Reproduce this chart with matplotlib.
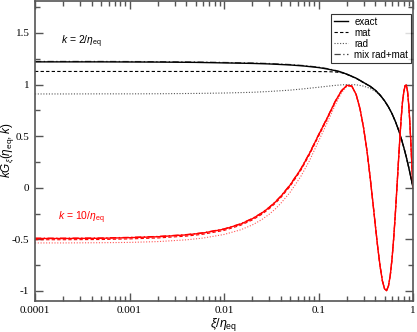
import matplotlib
matplotlib.use('Agg')
import matplotlib.pyplot as plt
from matplotlib.ticker import LogLocator, MultipleLocator, FuncFormatter

plt.rcParams['axes.unicode_minus'] = False
plt.rcParams['mathtext.fontset'] = 'custom'
plt.rcParams['mathtext.rm'] = 'Liberation Sans'
plt.rcParams['mathtext.it'] = 'Liberation Sans:italic'
plt.rcParams['font.family'] = 'Liberation Sans'

# k = 2/eta_eq (black)
xi_k2 = [1e-4, 2e-4, 5e-4, 1e-3, 2e-3, 5e-3, 0.01, 0.02, 0.03, 0.05, 0.07, 0.1,
         0.125, 0.15, 0.175, 0.2, 0.25, 0.3, 0.35, 0.4, 0.45, 0.5, 0.55, 0.6,
         0.65, 0.7, 0.75, 0.8, 0.85, 0.9, 0.95, 0.975, 1.0]
exact_k2 = [1.220, 1.220, 1.220, 1.219, 1.218, 1.215, 1.210, 1.205, 1.200, 1.190, 1.180, 1.165,
            1.150, 1.135, 1.120, 1.100, 1.062, 1.020, 0.985, 0.945, 0.897, 0.843, 0.783, 0.717,
            0.644, 0.565, 0.479, 0.389, 0.296, 0.199, 0.100, 0.050, 0.0]
mat_k2 = [1.127, 1.127, 1.127, 1.127, 1.127, 1.127, 1.127, 1.127, 1.127, 1.127, 1.127, 1.126,
          1.125, 1.122, 1.115, 1.098, 1.060, 1.018, 0.983, 0.944, 0.896, 0.842, 0.783, 0.717,
          0.644, 0.565, 0.479, 0.389, 0.296, 0.199, 0.100, 0.050, 0.0]
rad_k2 = [0.909, 0.909, 0.910, 0.910, 0.911, 0.914, 0.918, 0.925, 0.933, 0.946, 0.959, 0.974,
          0.984, 0.992, 0.997, 1.000, 0.998, 0.985, 0.964, 0.932, 0.891, 0.842, 0.783, 0.717,
          0.644, 0.565, 0.479, 0.389, 0.296, 0.199, 0.100, 0.050, 0.0]
mix_k2 = [1.224, 1.224, 1.224, 1.223, 1.222, 1.219, 1.214, 1.209, 1.204, 1.194, 1.184, 1.169,
          1.154, 1.138, 1.122, 1.101, 1.062, 1.020, 0.985, 0.945, 0.897, 0.843, 0.783, 0.717,
          0.644, 0.565, 0.479, 0.389, 0.296, 0.199, 0.100, 0.050, 0.0]

# k = 10/eta_eq (red)
xi_k10 = [1e-4, 2e-4, 5e-4, 1e-3, 2e-3, 4e-3, 6e-3, 0.01, 0.015, 0.02, 0.025, 0.03,
          0.035, 0.04, 0.05, 0.065, 0.08, 0.1, 0.125, 0.15, 0.175, 0.2,
          0.225, 0.25, 0.275, 0.3, 0.325, 0.35, 0.375, 0.4, 0.425, 0.45, 0.475, 0.5,
          0.525, 0.55, 0.575, 0.6, 0.625, 0.65, 0.675, 0.7, 0.725, 0.75, 0.775, 0.8,
          0.825, 0.85, 0.875, 0.9, 0.925, 0.95, 0.975, 1.0]
tail_k10 = [0.985, 0.905, 0.765, 0.580, 0.365, 0.120, -0.130, -0.370, -0.590, -0.770, -0.905, -0.980,
            -0.998, -0.952, -0.848, -0.688, -0.487, -0.256, -0.008, 0.239, 0.472, 0.676, 0.837, 0.930,
            0.990, 0.995, 0.935, 0.810, 0.640, 0.430, 0.200, 0.0]
exact_k10 = [-0.492, -0.492, -0.490, -0.484, -0.475, -0.457, -0.439, -0.402, -0.352, -0.300, -0.247, -0.193,
             -0.138, -0.083, 0.025, 0.180, 0.330, 0.510, 0.685, 0.835, 0.940, 0.993] + tail_k10
mat_k10 = [-0.504, -0.504, -0.502, -0.496, -0.487, -0.469, -0.451, -0.414, -0.364, -0.312, -0.259, -0.205,
           -0.150, -0.095, 0.013, 0.168, 0.318, 0.498, 0.675, 0.828, 0.936, 0.991] + tail_k10
rad_k10 = [-0.535, -0.535, -0.533, -0.530, -0.522, -0.505, -0.488, -0.453, -0.408, -0.360, -0.310, -0.258,
           -0.205, -0.150, -0.045, 0.110, 0.260, 0.450, 0.640, 0.800, 0.920, 0.985] + tail_k10
mix_k10 = [-0.489, -0.489, -0.487, -0.481, -0.472, -0.454, -0.436, -0.399, -0.349, -0.297, -0.244, -0.190,
           -0.135, -0.080, 0.028, 0.183, 0.333, 0.513, 0.688, 0.837, 0.941, 0.993] + tail_k10

fig = plt.figure(figsize=(4.17, 3.32), dpi=100)
ax = fig.add_axes([35/417, 1 - 300.7/332, 378/417, 299.7/332])

ax.plot(xi_k2, mix_k2, color='#444444', lw=0.9, ls=(0, (5, 2, 1, 2)))
ax.plot(xi_k2, rad_k2, color='#555555', lw=0.8, ls=(0, (1, 1.5)))
ax.plot(xi_k2, mat_k2, color='black', lw=0.8, ls=(0, (3, 2)))
ax.plot(xi_k2, exact_k2, color='black', lw=1.0)

ax.plot(xi_k10, mix_k10, color='red', lw=0.9, ls=(0, (5, 2, 1, 2)))
ax.plot(xi_k10, rad_k10, color='#ff5555', lw=0.8, ls=(0, (1, 1.5)))
ax.plot(xi_k10, mat_k10, color='red', lw=0.8, ls=(0, (3, 2)))
ax.plot(xi_k10, exact_k10, color='red', lw=1.0)

ax.set_xscale('log')
ax.set_xlim(1e-4, 1)
ax.set_ylim(-1.095, 1.81)

ax.xaxis.set_major_locator(LogLocator(base=10, numticks=10))
ax.xaxis.set_minor_locator(LogLocator(base=10, subs=range(2, 10), numticks=20))
ax.xaxis.set_major_formatter(FuncFormatter(lambda v, p: '%g' % v))
ax.yaxis.set_major_locator(MultipleLocator(0.5))
ax.yaxis.set_minor_locator(MultipleLocator(0.25))
ax.yaxis.set_major_formatter(FuncFormatter(lambda v, p: '%g' % v))

ax.tick_params(which='both', direction='in', top=True, right=True, color='#555555', width=1)
ax.tick_params(which='major', length=6, labelsize=8, pad=4)
ax.tick_params(which='minor', length=3.5)
for lab in ax.get_xticklabels() + ax.get_yticklabels():
    lab.set_family('Liberation Serif')
for sp in ax.spines.values():
    sp.set_color('#555555')
    sp.set_linewidth(1.2)

ax.set_xlabel(r'$\xi/\eta_{\rm eq}$', fontsize=9)
ax.set_ylabel(r'$kG_{\xi}(\eta_{\rm eq},k)$', fontsize=8.5)
ax.xaxis.set_label_coords(0.5, -0.052)
ax.yaxis.set_label_coords(-0.05, 0.5)

ax.text(0.07, 0.855, r'$k$ = 2/$\eta_{\rm eq}$', transform=ax.transAxes, fontsize=7.5, color='black')
ax.text(0.06, 0.27, r'$k$ = 10/$\eta_{\rm eq}$', transform=ax.transAxes, fontsize=7.5, color='red')

handles = [plt.Line2D([], [], color='black', lw=1.0),
           plt.Line2D([], [], color='black', lw=0.8, ls=(0, (3, 2))),
           plt.Line2D([], [], color='#555555', lw=0.8, ls=(0, (1, 1.5))),
           plt.Line2D([], [], color='#444444', lw=0.9, ls=(0, (5, 2, 1, 2)))]
leg = ax.legend(handles, ['exact', 'mat', 'rad', 'mix rad+mat'], loc='upper right',
                bbox_to_anchor=(0.995, 0.957), fontsize=7, frameon=True, fancybox=False,
                edgecolor='black', handlelength=1.5, handletextpad=0.6, labelspacing=0.1,
                borderpad=0.3, borderaxespad=0)
leg.get_frame().set_linewidth(0.8)

fig.savefig('out.png', dpi=100)
